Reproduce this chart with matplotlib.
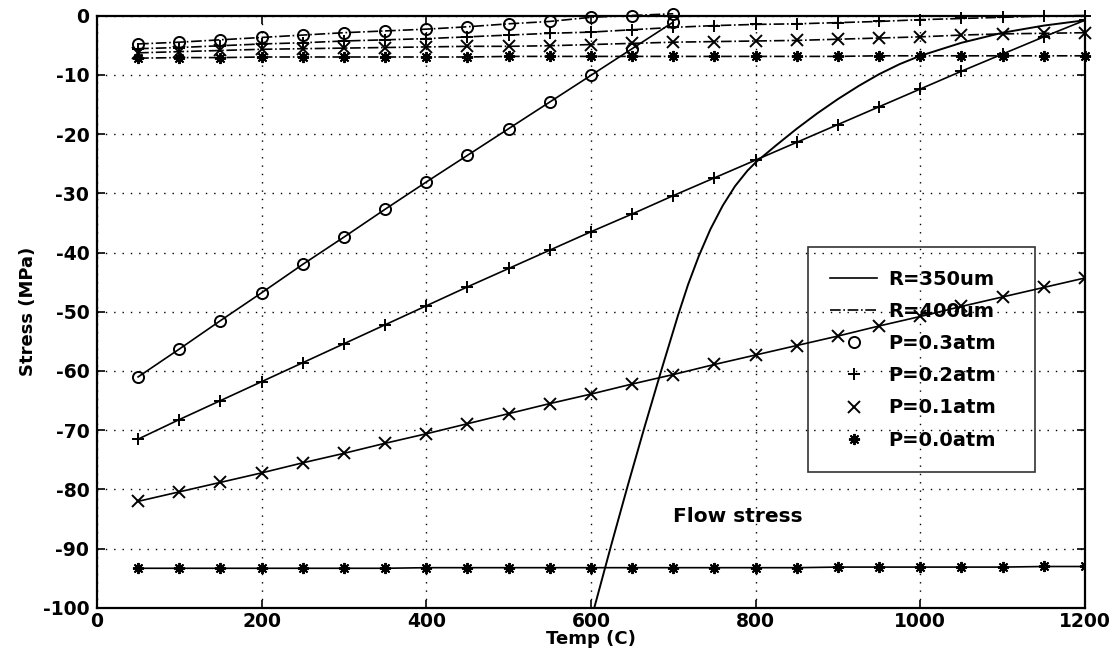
import matplotlib.pyplot as plt
from matplotlib.lines import Line2D

plt.rcParams['font.family'] = ['DejaVu Sans']
plt.rcParams['font.weight'] = 'bold'
plt.rcParams['axes.unicode_minus'] = False

# temperatures (C)
temp = [50, 100, 150, 200, 250, 300, 350, 400, 450, 500, 550, 600,
        650, 700, 750, 800, 850, 900, 950, 1000, 1050, 1100, 1150, 1200]
temp_short = temp[:14]

# R=350um, solid lines
r350_p03 = [-61.0, -56.3, -51.5, -46.8, -42.0, -37.4, -32.7, -28.1, -23.6,
            -19.1, -14.6, -10.1, -5.6, -1.1]
r350_p02 = [-71.5, -68.2, -65.0, -61.8, -58.6, -55.4, -52.2, -49.0, -45.8,
            -42.7, -39.6, -36.5, -33.5, -30.4, -27.4, -24.4, -21.4, -18.4,
            -15.4, -12.4, -9.4, -6.5, -3.6, -0.8]
r350_p01 = [-82.0, -80.4, -78.8, -77.2, -75.5, -73.9, -72.2, -70.6, -68.9,
            -67.2, -65.5, -63.9, -62.2, -60.6, -58.9, -57.3, -55.7, -54.1,
            -52.4, -50.8, -49.1, -47.5, -45.9, -44.3]
r350_p00 = [-93.3, -93.3, -93.3, -93.3, -93.3, -93.3, -93.3, -93.2, -93.2,
            -93.2, -93.2, -93.2, -93.2, -93.2, -93.2, -93.2, -93.2, -93.1,
            -93.1, -93.1, -93.1, -93.1, -93.0, -93.0]

# R=400um, dash-dot lines
r400_p03 = [-4.8, -4.5, -4.1, -3.7, -3.3, -2.9, -2.6, -2.3, -1.9, -1.4,
            -1.0, -0.3, 0.0, 0.3]
r400_p02 = [-5.6, -5.4, -5.1, -4.8, -4.6, -4.3, -4.1, -3.9, -3.6, -3.3,
            -3.0, -2.8, -2.4, -2.0, -1.7, -1.5, -1.4, -1.2, -1.0, -0.7,
            -0.5, -0.3, -0.1, 0.0]
r400_p01 = [-6.3, -6.1, -5.9, -5.7, -5.6, -5.5, -5.4, -5.3, -5.2, -5.2,
            -5.1, -4.9, -4.7, -4.5, -4.4, -4.3, -4.2, -4.0, -3.8, -3.6,
            -3.3, -3.1, -3.0, -2.9]
r400_p00 = [-7.2, -7.1, -7.1, -7.0, -7.0, -7.0, -7.0, -7.0, -7.0, -6.9,
            -6.9, -6.9, -6.9, -6.9, -6.9, -6.9, -6.9, -6.9, -6.8, -6.8,
            -6.8, -6.8, -6.8, -6.8]

# flow stress curve
flow_temp = [604, 625, 645, 665, 685, 706, 718, 731, 745, 760, 775, 790,
             800, 825, 850, 875, 900, 925, 950, 975, 1000, 1050, 1100,
             1150, 1200]
flow_stress = [-100, -89.2, -79.2, -69.5, -60.1, -50.5, -45.4, -40.6, -36.1,
               -32.1, -28.8, -26.2, -24.8, -21.9, -19.1, -16.5, -14.1, -11.9,
               -9.9, -8.2, -6.8, -4.6, -2.9, -1.7, -0.8]

labels = ['R=350um', 'R=400um', 'P=0.3atm', 'P=0.2atm', 'P=0.1atm', 'P=0.0atm']

star = (8, 2, 0)
mk = dict(color='k', lw=1.2, ms=8, mew=1.4, mfc='none')

fig = plt.figure(figsize=(11.17, 6.55), dpi=100)
ax = fig.add_axes([0.0868, 0.0718, 0.8845, 0.9045])

ax.plot(temp_short, r350_p03, '-', marker='o', **mk)
ax.plot(temp, r350_p02, '-', marker='+', **mk)
ax.plot(temp, r350_p01, '-', marker='x', **mk)
ax.plot(temp, r350_p00, '-', marker=star, **mk)

ax.plot(temp_short, r400_p03, '-.', marker='o', clip_on=False, **mk)
ax.plot(temp, r400_p02, '-.', marker='+', clip_on=False, **mk)
ax.plot(temp, r400_p01, '-.', marker='x', clip_on=False, **mk)
ax.plot(temp, r400_p00, '-.', marker=star, clip_on=False, **mk)

ax.plot(flow_temp, flow_stress, '-', color='k', lw=1.4)
ax.text(700, -84.6, 'Flow stress', fontsize=14.5, fontweight='bold', va='center')

ax.set_xlim(0, 1200)
ax.set_ylim(-100, 0)
ax.set_xticks(range(0, 1201, 200))
ax.set_yticks(range(-100, 1, 10))
ax.grid(True, color='k', linestyle=(0, (1, 5)), linewidth=1.0)
ax.tick_params(direction='in', top=True, right=True, length=6, width=1.2,
               labelsize=13.5)
ax.tick_params(axis='x', pad=3)
ax.tick_params(axis='y', pad=5.5)
for s in ax.spines.values():
    s.set_linewidth(1.6)

ax.set_xlabel('Temp (C)', fontsize=13, fontweight='bold', labelpad=-1)
ax.set_ylabel('Stress (MPa)', fontsize=13, fontweight='bold', labelpad=4)

handles = [
    Line2D([], [], color='k', lw=1.2, ls='-'),
    Line2D([], [], color='k', lw=1.2, ls='-.'),
    Line2D([], [], color='k', ls='none', marker='o', ms=8, mfc='none', mew=1.4),
    Line2D([], [], color='k', ls='none', marker='+', ms=8, mew=1.4),
    Line2D([], [], color='k', ls='none', marker='x', ms=8, mew=1.4),
    Line2D([], [], color='k', ls='none', marker=star, ms=8, mew=1.4),
]
leg = ax.legend(handles, labels, loc='upper left',
                bbox_to_anchor=(0.7196, 0.0, 0.2298, 0.609), mode='expand',
                fontsize=14, frameon=True, fancybox=False, edgecolor='k',
                facecolor='none', handlelength=2.4,
                labelspacing=0.68, borderpad=1.15, handletextpad=0.6,
                borderaxespad=0.0)
leg.get_frame().set_linewidth(1.2)
for t in leg.get_texts():
    t.set_fontweight('bold')

fig.savefig('out.png', dpi=100)
